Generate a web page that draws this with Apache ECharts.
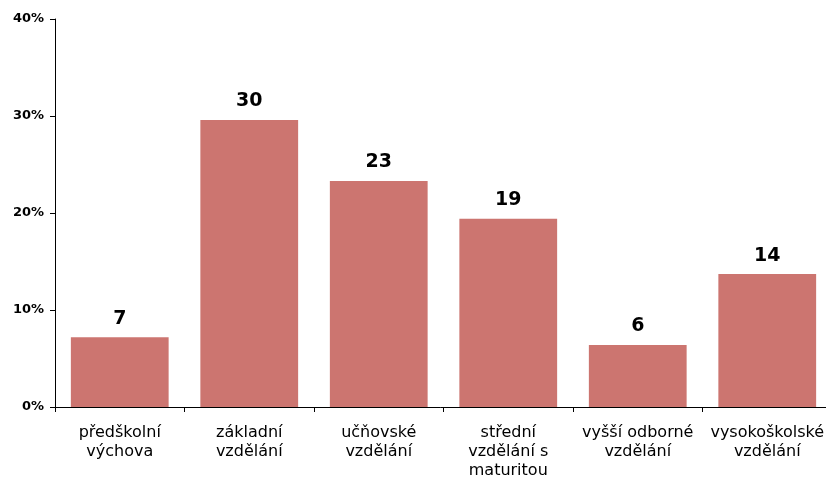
<!DOCTYPE html>
<html>
<head>
<meta charset="utf-8">
<script src="https://cdn.jsdelivr.net/npm/echarts@6/dist/echarts.min.js"></script>
<style>
  html, body { margin: 0; padding: 0; background: #fff; }
  #chart { width: 826px; height: 480px; }
</style>
</head>
<body>
<div id="chart"></div>
<script>
// Education level shares (%)
const categories = [
  'předškolní\nvýchova',
  'základní\nvzdělání',
  'učňovské\nvzdělání',
  'střední\nvzdělání s\nmaturitou',
  'vyšší odborné\nvzdělání',
  'vysokoškolské\nvzdělání'
];
const shares = [7.2, 29.6, 23.3, 19.4, 6.4, 13.7];
const yTicks = [0, 10, 20, 30, 40];

const chart = echarts.init(document.getElementById('chart'), null, { renderer: 'canvas' });
const font = 'DejaVu Sans, Verdana, sans-serif';

chart.setOption({
  animation: false,
  // plot area runs slightly past the right edge of the canvas
  grid: {
    left: 55, width: 777, top: 19, bottom: 73,
    containLabel: false, outerBoundsMode: 'none'
  },
  xAxis: {
    type: 'category',
    data: categories,
    axisLine: { lineStyle: { color: '#000', width: 1 } },
    axisTick: { show: true, length: 5, lineStyle: { color: '#000' } },
    axisLabel: {
      color: '#000', fontFamily: font, fontSize: 16, lineHeight: 19,
      margin: 16, interval: 0
    },
    splitLine: { show: false }
  },
  yAxis: {
    type: 'value',
    min: yTicks[0],
    max: yTicks[yTicks.length - 1],
    interval: 10,
    axisLine: { show: true, lineStyle: { color: '#000', width: 1 } },
    axisTick: { show: true, length: 5, lineStyle: { color: '#000' } },
    axisLabel: {
      color: '#000', fontFamily: font, fontSize: 13, fontWeight: 'bold',
      margin: 11, formatter: v => v + '%'
    },
    splitLine: { show: false }
  },
  series: [{
    type: 'bar',
    data: shares,
    barCategoryGap: '24.5%',
    itemStyle: { color: '#cc7570' },
    label: {
      show: true, position: 'top', distance: 9,
      color: '#000', fontFamily: font, fontSize: 19, fontWeight: 'bold',
      formatter: p => String(Math.round(p.value))
    }
  }]
});
</script>
</body>
</html>
